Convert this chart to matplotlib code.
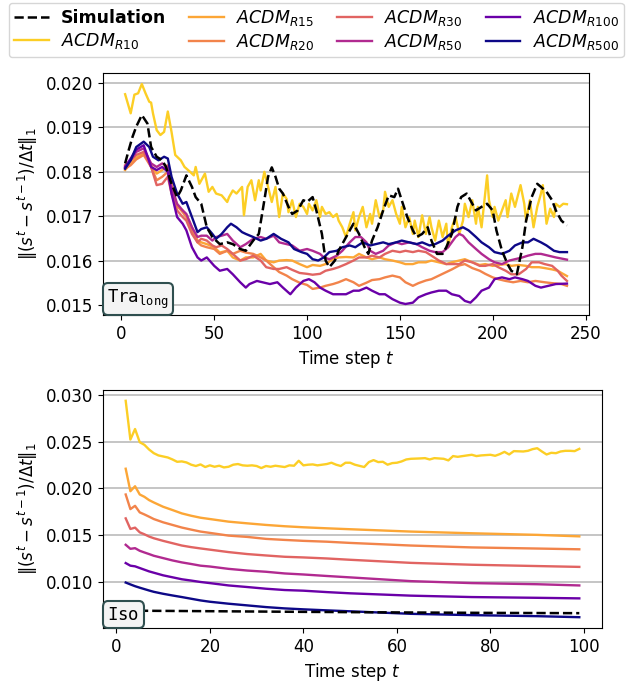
import numpy as np
import matplotlib
matplotlib.use('Agg')
import matplotlib.pyplot as plt
from matplotlib.offsetbox import AnchoredText

# ---------------- data: trajectory (long) ----------------
t_r10 = [2, 5, 7, 9, 11, 13, 15, 16, 17, 19, 21, 23, 25, 27, 29, 32, 34, 37, 39, 40,
         42, 45, 47, 49, 51, 54, 57, 58, 60, 62, 65, 66, 68, 70, 72, 74, 75, 77, 79, 81,
         83, 85, 87, 89, 90, 92, 94, 96, 98, 100, 101, 103, 105, 107, 108, 110, 112, 114, 116, 117,
         119, 121, 123, 125, 126, 128, 130, 132, 134, 135, 137, 139, 141, 142, 144, 146, 148, 150, 151, 153,
         155, 157, 158, 160, 162, 164, 166, 167, 169, 171, 173, 175, 176, 178, 180, 182, 184, 185, 187, 189,
         191, 192, 194, 197, 198, 200, 201, 203, 205, 207, 208, 210, 212, 215, 217, 218, 220, 222, 224, 226,
         227, 229, 231, 233, 234, 236, 238, 240]
v_r10 = [0.01975, 0.01932, 0.01974, 0.01977, 0.01998, 0.01977, 0.01958, 0.01956, 0.01932, 0.01894,
         0.01883, 0.01890, 0.01936, 0.01890, 0.01838, 0.01826, 0.01811, 0.01800, 0.01792, 0.01811,
         0.01773, 0.01796, 0.01755, 0.01766, 0.01751, 0.01747, 0.01732, 0.01743, 0.01758, 0.01751,
         0.01766, 0.01702, 0.01766, 0.01781, 0.01736, 0.01781, 0.01758, 0.01800, 0.01766, 0.01732,
         0.01766, 0.01698, 0.01751, 0.01739, 0.01709, 0.01736, 0.01698, 0.01728, 0.01721, 0.01705,
         0.01728, 0.01713, 0.01736, 0.01698, 0.01721, 0.01705, 0.01709, 0.01698, 0.01705, 0.01690,
         0.01675, 0.01653, 0.01683, 0.01709, 0.01668, 0.01698, 0.01721, 0.01675, 0.01705, 0.01683,
         0.01736, 0.01698, 0.01713, 0.01755, 0.01721, 0.01736, 0.01705, 0.01683, 0.01721, 0.01675,
         0.01698, 0.01660, 0.01690, 0.01653, 0.01702, 0.01660, 0.01698, 0.01675, 0.01645, 0.01690,
         0.01653, 0.01683, 0.01630, 0.01675, 0.01698, 0.01660, 0.01690, 0.01728, 0.01698, 0.01736,
         0.01683, 0.01721, 0.01675, 0.01792, 0.01736, 0.01698, 0.01721, 0.01690, 0.01713, 0.01736,
         0.01698, 0.01751, 0.01721, 0.01770, 0.01728, 0.01690, 0.01736, 0.01675, 0.01721, 0.01751,
         0.01770, 0.01683, 0.01717, 0.01698, 0.01728, 0.01721, 0.01728, 0.01727]

t_sim = [2, 4, 6, 8, 11, 14, 16, 19, 22, 24, 27, 30, 32, 35, 38, 40, 43, 46, 49, 53,
         57, 60, 64, 67, 71, 74, 77, 79, 81, 83, 85, 87, 90, 92, 95, 98, 100, 103, 105, 108,
         110, 112, 115, 117, 120, 123, 125, 128, 131, 133, 135, 138, 141, 144, 147, 149, 151, 154, 157, 159,
         162, 165, 167, 170, 173, 175, 178, 181, 183, 186, 189, 191, 194, 197, 200, 202, 205, 208, 210, 213,
         216, 218, 221, 224, 226, 229, 232, 234, 237, 240]
v_sim = [0.01819, 0.01850, 0.01879, 0.01902, 0.01928, 0.01909, 0.01856, 0.01834, 0.01826, 0.01811,
         0.01773, 0.01743, 0.01758, 0.01792, 0.01766, 0.01743, 0.01728, 0.01675, 0.01653, 0.01637,
         0.01641, 0.01637, 0.01626, 0.01622, 0.01645, 0.01660, 0.01736, 0.01789, 0.01810, 0.01789,
         0.01762, 0.01751, 0.01721, 0.01705, 0.01713, 0.01736, 0.01732, 0.01743, 0.01713, 0.01660,
         0.01600, 0.01585, 0.01600, 0.01622, 0.01645, 0.01668, 0.01683, 0.01660, 0.01630, 0.01615,
         0.01645, 0.01675, 0.01713, 0.01747, 0.01743, 0.01762, 0.01736, 0.01698, 0.01668, 0.01653,
         0.01660, 0.01675, 0.01645, 0.01615, 0.01615, 0.01630, 0.01660, 0.01721, 0.01743, 0.01751,
         0.01728, 0.01713, 0.01721, 0.01728, 0.01713, 0.01668, 0.01622, 0.01592, 0.01577, 0.01569,
         0.01630, 0.01690, 0.01743, 0.01773, 0.01766, 0.01755, 0.01736, 0.01713, 0.01690, 0.01679]

t_r15 = [2, 5, 8, 12, 16, 19, 22, 25, 27, 30, 33, 35, 38, 41, 43, 46, 50, 53, 57, 60,
         64, 67, 71, 75, 78, 82, 85, 89, 92, 96, 100, 103, 107, 110, 114, 117, 121, 125, 128, 132,
         135, 139, 142, 146, 150, 153, 157, 160, 164, 167, 171, 175, 178, 182, 185, 189, 193, 196, 200, 203,
         207, 210, 214, 218, 221, 225, 228, 232, 235, 237, 240]
v_r15 = [0.01804, 0.01819, 0.01832, 0.01841, 0.01815, 0.01796, 0.01804, 0.01815, 0.01777, 0.01721,
         0.01713, 0.01702, 0.01675, 0.01645, 0.01641, 0.01637, 0.01630, 0.01618, 0.01622, 0.01607,
         0.01600, 0.01607, 0.01607, 0.01615, 0.01600, 0.01596, 0.01600, 0.01601, 0.01600, 0.01592,
         0.01585, 0.01590, 0.01588, 0.01592, 0.01603, 0.01607, 0.01608, 0.01607, 0.01615, 0.01607,
         0.01603, 0.01607, 0.01603, 0.01600, 0.01596, 0.01592, 0.01592, 0.01596, 0.01596, 0.01600,
         0.01596, 0.01592, 0.01596, 0.01600, 0.01603, 0.01596, 0.01590, 0.01592, 0.01588, 0.01590,
         0.01592, 0.01588, 0.01590, 0.01588, 0.01585, 0.01585, 0.01583, 0.01580, 0.01577, 0.01572,
         0.01565]

t_r20 = [2, 5, 8, 12, 16, 19, 22, 25, 27, 30, 33, 35, 38, 41, 43, 46, 50, 53, 57, 60,
         64, 67, 71, 75, 78, 82, 85, 89, 92, 96, 100, 103, 107, 110, 114, 117, 121, 125, 128, 132,
         135, 139, 142, 146, 150, 153, 157, 160, 164, 167, 171, 175, 178, 182, 185, 189, 193, 196, 200, 203,
         207, 211, 215, 219, 223, 228, 232, 237, 240]
v_r20 = [0.01807, 0.01815, 0.01828, 0.01838, 0.01811, 0.01781, 0.01789, 0.01800, 0.01758, 0.01724,
         0.01709, 0.01698, 0.01668, 0.01641, 0.01634, 0.01630, 0.01626, 0.01615, 0.01622, 0.01615,
         0.01622, 0.01618, 0.01615, 0.01607, 0.01600, 0.01585, 0.01574, 0.01566, 0.01558, 0.01550,
         0.01545, 0.01536, 0.01539, 0.01543, 0.01547, 0.01551, 0.01558, 0.01551, 0.01543, 0.01550,
         0.01556, 0.01558, 0.01562, 0.01566, 0.01562, 0.01551, 0.01543, 0.01549, 0.01555, 0.01558,
         0.01566, 0.01574, 0.01580, 0.01589, 0.01592, 0.01583, 0.01577, 0.01570, 0.01562, 0.01558,
         0.01554, 0.01551, 0.01554, 0.01551, 0.01554, 0.01551, 0.01549, 0.01547, 0.01543]

t_r30 = [2, 5, 8, 12, 16, 19, 22, 25, 27, 30, 33, 35, 38, 41, 43, 46, 49, 51, 54, 57,
         60, 64, 67, 71, 75, 78, 82, 85, 89, 92, 96, 100, 103, 107, 110, 114, 117, 121, 125, 128,
         132, 135, 139, 142, 146, 150, 153, 157, 160, 164, 167, 171, 175, 178, 182, 185, 189, 193, 196, 200,
         203, 207, 210, 214, 218, 221, 225, 228, 232, 235, 237, 240]
v_r30 = [0.01815, 0.01826, 0.01838, 0.01845, 0.01811, 0.01770, 0.01773, 0.01789, 0.01751, 0.01713,
         0.01698, 0.01690, 0.01660, 0.01641, 0.01649, 0.01645, 0.01634, 0.01630, 0.01634, 0.01626,
         0.01615, 0.01600, 0.01603, 0.01611, 0.01600, 0.01585, 0.01581, 0.01581, 0.01585, 0.01579,
         0.01572, 0.01570, 0.01568, 0.01570, 0.01577, 0.01581, 0.01585, 0.01592, 0.01600, 0.01607,
         0.01607, 0.01611, 0.01607, 0.01615, 0.01622, 0.01619, 0.01622, 0.01619, 0.01622, 0.01619,
         0.01611, 0.01600, 0.01592, 0.01592, 0.01592, 0.01600, 0.01596, 0.01588, 0.01588, 0.01592,
         0.01585, 0.01577, 0.01569, 0.01569, 0.01581, 0.01596, 0.01596, 0.01592, 0.01588, 0.01577,
         0.01566, 0.01554]

t_r50 = [2, 5, 8, 12, 16, 19, 22, 25, 27, 30, 33, 35, 38, 41, 43, 46, 49, 51, 54, 57,
         60, 64, 67, 71, 75, 78, 82, 85, 89, 92, 96, 100, 103, 107, 109, 112, 116, 119, 123, 126,
         129, 132, 134, 137, 141, 144, 148, 151, 155, 159, 162, 166, 169, 173, 176, 180, 182, 184, 187, 191,
         194, 198, 201, 205, 209, 212, 216, 219, 223, 226, 230, 234, 240]
v_r50 = [0.01811, 0.01826, 0.01845, 0.01853, 0.01819, 0.01811, 0.01819, 0.01811, 0.01766, 0.01728,
         0.01713, 0.01705, 0.01675, 0.01653, 0.01656, 0.01656, 0.01645, 0.01653, 0.01656, 0.01660,
         0.01645, 0.01630, 0.01637, 0.01649, 0.01653, 0.01649, 0.01656, 0.01641, 0.01637, 0.01634,
         0.01622, 0.01626, 0.01622, 0.01615, 0.01607, 0.01603, 0.01611, 0.01622, 0.01641, 0.01653,
         0.01653, 0.01641, 0.01622, 0.01615, 0.01622, 0.01634, 0.01641, 0.01637, 0.01641, 0.01637,
         0.01630, 0.01622, 0.01619, 0.01619, 0.01630, 0.01653, 0.01660, 0.01656, 0.01641, 0.01626,
         0.01615, 0.01603, 0.01596, 0.01592, 0.01600, 0.01603, 0.01607, 0.01611, 0.01615, 0.01615,
         0.01611, 0.01607, 0.01602]

t_r100 = [2, 5, 8, 12, 16, 19, 22, 25, 27, 30, 33, 35, 38, 41, 43, 46, 50, 53, 57, 60,
          64, 67, 69, 73, 76, 80, 84, 87, 91, 94, 98, 101, 104, 107, 110, 114, 117, 121, 125, 128,
          132, 135, 139, 142, 146, 150, 153, 157, 160, 164, 167, 171, 175, 178, 182, 185, 188, 191, 194, 198,
          201, 205, 209, 212, 216, 219, 223, 226, 230, 234, 240]
v_r100 = [0.01811, 0.01830, 0.01850, 0.01860, 0.01811, 0.01804, 0.01811, 0.01800, 0.01751, 0.01698,
          0.01683, 0.01668, 0.01630, 0.01607, 0.01600, 0.01607, 0.01588, 0.01577, 0.01581, 0.01569,
          0.01551, 0.01539, 0.01547, 0.01554, 0.01551, 0.01547, 0.01551, 0.01539, 0.01524, 0.01539,
          0.01554, 0.01558, 0.01551, 0.01539, 0.01532, 0.01524, 0.01524, 0.01524, 0.01532, 0.01532,
          0.01539, 0.01532, 0.01524, 0.01524, 0.01513, 0.01505, 0.01502, 0.01505, 0.01517, 0.01524,
          0.01528, 0.01532, 0.01532, 0.01524, 0.01520, 0.01509, 0.01505, 0.01517, 0.01532, 0.01539,
          0.01558, 0.01562, 0.01558, 0.01562, 0.01558, 0.01554, 0.01543, 0.01539, 0.01543, 0.01547,
          0.01548]

t_r500 = [2, 5, 8, 12, 15, 17, 20, 23, 25, 27, 30, 33, 35, 38, 41, 43, 46, 49, 51, 54,
          57, 59, 62, 65, 67, 71, 75, 78, 82, 86, 90, 93, 97, 100, 103, 106, 109, 112, 116, 119,
          123, 126, 130, 134, 137, 141, 144, 148, 151, 155, 159, 162, 166, 169, 173, 176, 180, 184, 187, 191,
          194, 198, 201, 205, 209, 212, 216, 219, 222, 226, 229, 233, 236, 240]
v_r500 = [0.01807, 0.01826, 0.01856, 0.01868, 0.01856, 0.01834, 0.01826, 0.01834, 0.01830, 0.01789,
          0.01751, 0.01728, 0.01732, 0.01698, 0.01664, 0.01671, 0.01675, 0.01660, 0.01649, 0.01660,
          0.01675, 0.01683, 0.01675, 0.01664, 0.01660, 0.01653, 0.01645, 0.01649, 0.01660, 0.01649,
          0.01641, 0.01626, 0.01619, 0.01615, 0.01603, 0.01600, 0.01607, 0.01619, 0.01622, 0.01630,
          0.01634, 0.01630, 0.01641, 0.01634, 0.01637, 0.01641, 0.01637, 0.01641, 0.01645, 0.01641,
          0.01637, 0.01641, 0.01634, 0.01637, 0.01645, 0.01656, 0.01668, 0.01675, 0.01668, 0.01653,
          0.01641, 0.01630, 0.01619, 0.01615, 0.01622, 0.01634, 0.01641, 0.01641, 0.01649, 0.01641,
          0.01634, 0.01622, 0.01619, 0.01619]

# ---------------- data: isotropic ----------------
t_iso_r10 = [2, 3, 4, 5, 6, 7, 8, 9, 10, 11, 12, 13, 14, 15, 16, 17, 18, 19, 20, 21,
             22, 23, 24, 25, 26, 27, 28, 29, 30, 31, 32, 33, 34, 35, 36, 37, 38, 39, 40, 41,
             42, 43, 44, 45, 46, 47, 48, 49, 50, 51, 53, 54, 55, 56, 57, 58, 59, 60, 61, 62,
             63, 65, 66, 67, 68, 70, 71, 72, 73, 75, 76, 77, 78, 80, 81, 82, 83, 84, 85, 87,
             88, 89, 90, 91, 92, 93, 94, 95, 96, 97, 98, 99]
v_iso_r10 = [0.02935, 0.02521, 0.02634, 0.02493, 0.02465, 0.02415, 0.02376, 0.02352, 0.02341, 0.02330,
             0.02309, 0.02284, 0.02288, 0.02277, 0.02253, 0.02239, 0.02256, 0.02228, 0.02246, 0.02231,
             0.02242, 0.02224, 0.02231, 0.02253, 0.02260, 0.02246, 0.02242, 0.02246, 0.02239, 0.02217,
             0.02239, 0.02231, 0.02242, 0.02235, 0.02228, 0.02246, 0.02242, 0.02295, 0.02246, 0.02253,
             0.02256, 0.02246, 0.02253, 0.02260, 0.02274, 0.02253, 0.02239, 0.02274, 0.02274, 0.02253,
             0.02228, 0.02281, 0.02302, 0.02281, 0.02284, 0.02253, 0.02270, 0.02274, 0.02288, 0.02309,
             0.02316, 0.02320, 0.02323, 0.02309, 0.02323, 0.02316, 0.02299, 0.02345, 0.02337, 0.02352,
             0.02359, 0.02345, 0.02352, 0.02359, 0.02348, 0.02366, 0.02390, 0.02362, 0.02398, 0.02394,
             0.02401, 0.02419, 0.02429, 0.02394, 0.02362, 0.02380, 0.02376, 0.02394, 0.02401, 0.02401,
             0.02398, 0.02422]

t_iso = [2, 3, 4, 5, 6, 7, 8, 10, 12, 14, 16, 18, 20, 24, 28, 32, 36, 40, 45, 50,
         63, 76, 90, 99]
v_iso_r15 = [0.02210, 0.01970, 0.02023, 0.01935, 0.01910, 0.01875, 0.01850, 0.01804, 0.01769, 0.01733,
             0.01708, 0.01687, 0.01673, 0.01645, 0.01627, 0.01610, 0.01596, 0.01585, 0.01574, 0.01564,
             0.01539, 0.01521, 0.01504, 0.01488]
v_iso_r20 = [0.01935, 0.01779, 0.01814, 0.01744, 0.01722, 0.01698, 0.01673, 0.01638, 0.01610, 0.01582,
             0.01560, 0.01539, 0.01525, 0.01496, 0.01482, 0.01461, 0.01450, 0.01440, 0.01431, 0.01418,
             0.01390, 0.01370, 0.01358, 0.01350]
v_iso_r30 = [0.01680, 0.01567, 0.01581, 0.01531, 0.01510, 0.01486, 0.01468, 0.01440, 0.01415, 0.01390,
             0.01373, 0.01359, 0.01346, 0.01320, 0.01299, 0.01284, 0.01270, 0.01263, 0.01252, 0.01238,
             0.01205, 0.01185, 0.01171, 0.01162]
v_iso_r50 = [0.01398, 0.01355, 0.01362, 0.01334, 0.01316, 0.01299, 0.01281, 0.01256, 0.01231, 0.01210,
             0.01193, 0.01175, 0.01166, 0.01141, 0.01123, 0.01110, 0.01092, 0.01081, 0.01065, 0.01050,
             0.01010, 0.00989, 0.00977, 0.00964]
v_iso_r100 = [0.01203, 0.01175, 0.01168, 0.01150, 0.01132, 0.01114, 0.01100, 0.01072, 0.01051, 0.01030,
              0.01016, 0.01001, 0.00989, 0.00964, 0.00947, 0.00929, 0.00915, 0.00908, 0.00893, 0.00880,
              0.00855, 0.00840, 0.00832, 0.00826]
v_iso_r500 = [0.00995, 0.00975, 0.00956, 0.00940, 0.00925, 0.00910, 0.00896, 0.00875, 0.00857, 0.00840,
              0.00822, 0.00804, 0.00790, 0.00769, 0.00751, 0.00733, 0.00719, 0.00709, 0.00698, 0.00688,
              0.00661, 0.00647, 0.00636, 0.00625]
t_iso_sim = [2, 20, 40, 60, 80, 99]
v_iso_sim = [0.00695, 0.00689, 0.00682, 0.00676, 0.00671, 0.00668]

names = ['R10', 'R15', 'R20', 'R30', 'R50', 'R100', 'R500']
cmap = plt.get_cmap('plasma')
colors = [cmap(c) for c in [0.9, 0.8, 0.7, 0.6, 0.4, 0.2, 0.0]]

plt.rcParams['font.size'] = 12

fig = plt.figure(figsize=(6.34, 6.83), dpi=100)
ax1 = fig.add_axes([0.1625, 0.5388, 0.7666, 0.3543])
ax2 = fig.add_axes([0.1625, 0.0805, 0.787, 0.3485])

top_series = [(t_r10, v_r10), (t_r15, v_r15), (t_r20, v_r20), (t_r30, v_r30),
              (t_r50, v_r50), (t_r100, v_r100), (t_r500, v_r500)]
iso_series = [(t_iso_r10, v_iso_r10), (t_iso, v_iso_r15), (t_iso, v_iso_r20), (t_iso, v_iso_r30),
              (t_iso, v_iso_r50), (t_iso, v_iso_r100), (t_iso, v_iso_r500)]

ax1.plot(t_sim, v_sim, 'k--', lw=1.8, label='Simulation', zorder=3)
for (t, v), n, c in zip(top_series, names, colors):
    ax1.plot(t, v, color=c, lw=1.7, label=r'$ACDM_{%s}$' % n)

ax2.plot(t_iso_sim, v_iso_sim, 'k--', lw=1.8, zorder=3)
for (t, v), n, c in zip(iso_series, names, colors):
    ax2.plot(t, v, color=c, lw=1.7)

ax1.set_yticks([0.015, 0.016, 0.017, 0.018, 0.019, 0.020])
ax2.set_yticks([0.010, 0.015, 0.020, 0.025, 0.030])

ylab = r'$\Vert(s^t - s^{t-1})/\Delta t\Vert_1$'
for ax, tag in [(ax1, r'$\mathtt{Tra}_{\mathtt{long}}$'), (ax2, r'$\mathtt{Iso}$')]:
    ax.grid(axis='y', color='#c0c0c0', lw=1.3)
    ax.set_axisbelow(True)
    ax.set_xlabel('Time step $t$')
    ax.set_ylabel(ylab)
    at = AnchoredText(tag, loc='lower left', pad=0.25, borderpad=0.0,
                      prop=dict(size=12.5), frameon=True)
    at.patch.set_boxstyle('round,pad=0.,rounding_size=0.3')
    at.patch.set_facecolor('#f4f4f4')
    at.patch.set_edgecolor('#2f4f4f')
    at.patch.set_linewidth(1.5)
    ax.add_artist(at)

handles, labels = ax1.get_legend_handles_labels()
leg = fig.legend(handles, labels, loc='upper left', ncol=4, mode='expand',
                 bbox_to_anchor=(0.014, 0.0, 0.97, 0.996), borderaxespad=0.0,
                 fontsize=12.5, handlelength=2.0, columnspacing=0.8,
                 labelspacing=0.25, borderpad=0.3, handletextpad=0.7)
leg.get_texts()[0].set_fontweight('bold')

fig.savefig('out.png', dpi=100)
